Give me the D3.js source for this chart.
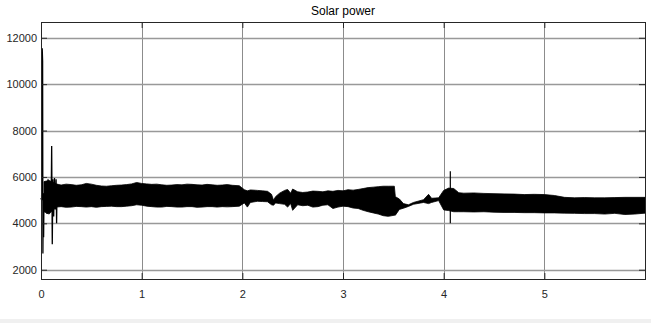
<!DOCTYPE html>
<html>
<head>
<meta charset="utf-8">
<script src="https://cdn.jsdelivr.net/npm/d3@7"></script>
<style>
  html, body { margin: 0; padding: 0; background: #fff; }
  #chart { width: 651px; height: 323px; }
</style>
</head>
<body>
<div id="chart"></div>
<script>
// axis ticks
const xTicks = [0, 1, 2, 3, 4, 5];
const yTicks = [2000, 4000, 6000, 8000, 10000, 12000];

// start-up transient (time s, power W)
const startT = [0, 0.006, 0.012, 0.016, 0.019, 0.022, 0.026, 0.03, 0.04, 0.05, 0.06, 0.07, 0.08, 0.09, 0.1, 0.106, 0.112, 0.118, 0.126, 0.134, 0.142, 0.15, 0.155, 0.16];
const startV = [5100, 5000, 11550, 11000, 2700, 4900, 3400, 5300, 4800, 5800, 4400, 5900, 4500, 5800, 4600, 7330, 3100, 5900, 4300, 5950, 4600, 5900, 4000, 5700];

// envelope of the fast oscillation (upper / lower)
const bandT = [0.03, 0.08, 0.15, 0.2, 0.25, 0.3, 0.35, 0.4, 0.45, 0.5, 0.55, 0.6, 0.65, 0.7, 0.75, 0.8, 0.85, 0.9, 0.95, 1.0, 1.05, 1.1, 1.15, 1.2, 1.25, 1.3, 1.35, 1.4, 1.45, 1.5, 1.55, 1.6, 1.65, 1.7, 1.75, 1.8, 1.85, 1.9, 1.97,
  2.02, 2.05, 2.08, 2.15, 2.2, 2.25, 2.29, 2.31, 2.33, 2.37, 2.42, 2.45, 2.48, 2.5, 2.55, 2.6, 2.65, 2.7, 2.75, 2.8, 2.85, 2.9, 2.95, 3.0, 3.05, 3.1, 3.15, 3.2, 3.25, 3.3, 3.35, 3.4, 3.45, 3.51,
  3.52, 3.56, 3.6, 3.65, 3.7, 3.8, 3.85, 3.88, 3.95, 4.0, 4.05, 4.1, 4.15, 4.2, 4.3, 4.4, 4.5, 4.6, 4.7, 4.8, 4.9, 5.0, 5.1, 5.2, 5.3, 5.4, 5.5, 5.6, 5.7, 5.8, 5.9, 6.0];
const bandHi = [5800, 5850, 5700, 5650, 5690, 5670, 5640, 5660, 5720, 5690, 5640, 5610, 5600, 5620, 5640, 5650, 5670, 5700, 5760, 5720, 5700, 5680, 5690, 5660, 5640, 5650, 5670, 5660, 5690, 5680, 5660, 5650, 5680, 5660, 5640, 5650, 5670, 5640, 5620,
  5450, 5400, 5440, 5420, 5400, 5380, 5250, 5000, 5150, 5300, 5420, 5460, 5300, 5480, 5360, 5330, 5350, 5390, 5380, 5360, 5400, 5380, 5420, 5400, 5450, 5430, 5460, 5500, 5540, 5560, 5580, 5600, 5600, 5600,
  5150, 5050, 4850, 4800, 4900, 5020, 5250, 5080, 5100, 5420, 5520, 5500, 5320, 5300, 5310, 5290, 5280, 5270, 5260, 5240, 5250, 5240, 5200, 5120, 5100, 5110, 5100, 5100, 5110, 5120, 5120, 5120];
const bandLo = [4500, 4400, 4700, 4720, 4690, 4700, 4730, 4720, 4700, 4720, 4690, 4720, 4730, 4740, 4720, 4720, 4740, 4760, 4800, 4780, 4740, 4720, 4700, 4700, 4730, 4720, 4700, 4700, 4720, 4720, 4690, 4700, 4720, 4720, 4700, 4720, 4710, 4720, 4740,
  4880, 4700, 4900, 4950, 4940, 4930, 4800, 4780, 4880, 4850, 4820, 4700, 4860, 4560, 4800, 4760, 4780, 4700, 4720, 4780, 4800, 4640, 4700, 4740, 4720, 4660, 4640, 4560, 4500, 4450, 4400, 4330, 4300, 4350,
  4350, 4600, 4650, 4730, 4820, 4900, 4850, 4900, 4980, 4580, 4550, 4500, 4500, 4500, 4490, 4500, 4480, 4470, 4470, 4460, 4460, 4450, 4450, 4440, 4430, 4420, 4420, 4400, 4430, 4380, 4400, 4440];

// isolated spikes
const spikeT = [4.066];
const spikeHi = [6250];
const spikeLo = [4000];

const width = 651;
const height = 323;
const margin = { top: 22, right: 6, bottom: 44, left: 41 };
const plotW = width - margin.left - margin.right;
const plotH = height - margin.top - margin.bottom;
const font = 'Arial, "Liberation Sans", sans-serif';

const svg = d3.select('#chart')
  .append('svg')
  .attr('width', width)
  .attr('height', height);

// grey strip along the bottom edge
svg.append('rect')
  .attr('x', 0).attr('y', 319)
  .attr('width', width).attr('height', 4)
  .style('fill', '#f0f0f0');

const g = svg.append('g')
  .attr('transform', `translate(${margin.left},${margin.top})`);

const x = d3.scaleLinear().domain([0, 6]).range([0, plotW]);
const y = d3.scaleLinear().domain([1600, 12680]).range([plotH, 0]);

// grid
g.selectAll('.vgrid')
  .data(xTicks.slice(1))
  .enter().append('line')
  .attr('x1', d => Math.round(x(d)) + 0.5).attr('x2', d => Math.round(x(d)) + 0.5)
  .attr('y1', 0).attr('y2', plotH)
  .style('stroke', '#8c8c8c').style('stroke-width', '1px');

g.selectAll('.hgrid')
  .data(yTicks)
  .enter().append('line')
  .attr('x1', 0).attr('x2', plotW)
  .attr('y1', d => Math.round(y(d)) + 0.5).attr('y2', d => Math.round(y(d)) + 0.5)
  .style('stroke', '#999').style('stroke-width', '1.5px');

// signal
const band = bandT.map((t, i) => [t, bandHi[i], bandLo[i]]);
const area = d3.area()
  .x(d => x(d[0]))
  .y0(d => y(d[2]))
  .y1(d => y(d[1]));

g.append('path')
  .attr('d', area(band))
  .style('fill', '#000')
  .style('stroke', '#000')
  .style('stroke-width', '0.8px')
  .style('stroke-linejoin', 'bevel');

const line = d3.line()
  .x((d, i) => x(startT[i]))
  .y(d => y(d));

g.append('path')
  .attr('d', line(startV))
  .style('fill', 'none')
  .style('stroke', '#000')
  .style('stroke-width', '1.3px');

g.selectAll('.spike')
  .data(spikeT)
  .enter().append('line')
  .attr('x1', d => x(d)).attr('x2', d => x(d))
  .attr('y1', (d, i) => y(spikeHi[i]))
  .attr('y2', (d, i) => y(spikeLo[i]))
  .style('stroke', '#000').style('stroke-width', '1.2px');

// axes with inward ticks on all four sides
const axisColor = '#262626';
const fmt = d3.format('d');

const xAxis = g.append('g')
  .attr('transform', `translate(0,${plotH})`)
  .call(d3.axisBottom(x).tickValues(xTicks).tickSize(-6).tickPadding(11).tickFormat(fmt));
const yAxis = g.append('g')
  .call(d3.axisLeft(y).tickValues(yTicks).tickSize(-6).tickPadding(4).tickFormat(fmt));
const xTop = g.append('g')
  .call(d3.axisTop(x).tickValues(xTicks).tickSize(-6).tickFormat(''));
const yRight = g.append('g')
  .attr('transform', `translate(${plotW},0)`)
  .call(d3.axisRight(y).tickValues(yTicks).tickSize(-6).tickFormat(''));

[xAxis, yAxis, xTop, yRight].forEach(a => {
  a.select('.domain').remove();
  a.selectAll('line').style('stroke', axisColor);
  a.selectAll('text')
    .style('font-family', font)
    .style('font-size', '11px')
    .style('fill', axisColor);
});

// box
g.append('rect')
  .attr('x', 0.5).attr('y', 0.5)
  .attr('width', plotW).attr('height', plotH)
  .style('fill', 'none')
  .style('stroke', axisColor)
  .style('stroke-width', '1px');

// title
svg.append('text')
  .attr('x', margin.left + plotW / 2)
  .attr('y', 15)
  .attr('text-anchor', 'middle')
  .text('Solar power')
  .style('font-family', font)
  .style('font-size', '12px')
  .style('fill', '#000');
</script>
</body>
</html>
